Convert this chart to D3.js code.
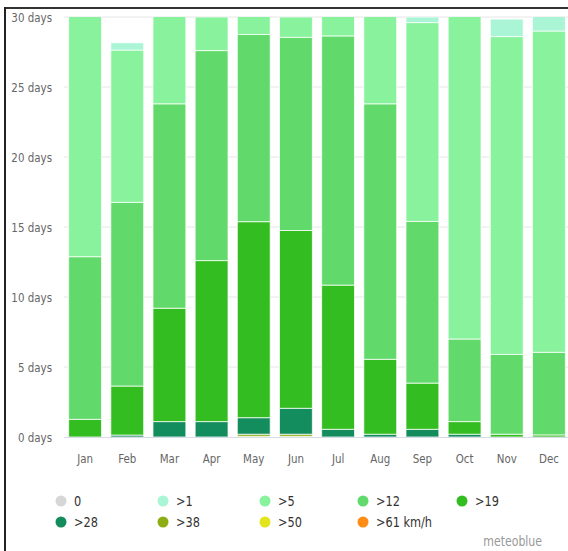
<!DOCTYPE html>
<html><head><meta charset="utf-8">
<script src="https://cdn.jsdelivr.net/npm/d3@7"></script>
<style>body{margin:0;background:#fff}svg{display:block}</style>
</head><body>
<svg id="c" width="568" height="551"></svg>
<script>
const months = ["Jan","Feb","Mar","Apr","May","Jun","Jul","Aug","Sep","Oct","Nov","Dec"];
const seriesNames = ["0", ">1", ">5", ">12", ">19", ">28", ">38", ">50", ">61 km/h"];
const s0   = [0,0,0,0,0,0,0,0,0,0,0,0];
const s1   = [0,0.52,0,0,0,0,0,0,0.4,0,1.25,2.0];
const s5   = [18.12,10.88,7.2,2.4,2.25,1.45,2.35,7.2,14.2,24.0,22.7,22.95];
const s12  = [11.62,13.12,14.6,15.0,13.37,13.8,17.8,18.25,11.55,5.9,5.7,5.9];
const s19  = [1.26,3.5,8.1,11.5,14.0,12.7,10.3,5.35,3.3,0.9,0.2,0.15];
const s28  = [0,0.14,1.1,1.1,1.18,1.85,0.55,0.2,0.55,0.2,0,0];
const s38  = [0,0,0,0,0.15,0.15,0,0,0,0,0,0];
const s50  = [0,0,0,0,0.05,0.05,0,0,0,0,0,0];
const s61  = [0,0,0,0,0,0,0,0,0,0,0,0];
const yTicks = [0,5,10,15,20,25,30];
const colors = ["#d6d6d6","#aaf5d5","#88f39c","#62da6b","#34bd20","#138d5d","#8cae14","#e4e41c","#ff8c14"];

const seriesVals = [s0,s1,s5,s12,s19,s28,s38,s50,s61];
const table = months.map((m,i)=>{const o={month:m}; seriesNames.forEach((n,k)=>o[n]=seriesVals[k][i]); return o;});
const order = seriesNames.slice().reverse();
const stack = d3.stack().keys(order)(table);

const svg = d3.select("#c");
const font = "'DejaVu Sans Condensed','DejaVu Sans',sans-serif";
const x = d3.scaleBand().domain(months).range([64,570]).paddingInner(0.22).paddingOuter(0.11);
const y = d3.scaleLinear().domain([0,30]).range([437,17]);

svg.append("g").selectAll("line").data(yTicks.filter(t=>t>0)).join("line")
  .attr("x1",64).attr("x2",568).attr("y1",d=>y(d)).attr("y2",d=>y(d))
  .attr("stroke","#e6e6e6").attr("stroke-width",1);

svg.append("defs").append("clipPath").attr("id","clip").append("rect")
  .attr("x",0).attr("y",y(30)).attr("width",568).attr("height",y(0)-y(30)+2);

const colorOf = d3.scaleOrdinal().domain(seriesNames).range(colors);
const g = svg.append("g").attr("clip-path","url(#clip)");
g.selectAll("g").data(stack).join("g").attr("fill",d=>colorOf(d.key))
  .selectAll("rect").data(d=>d).join("rect")
  .attr("x",d=>x(d.data.month)).attr("width",x.bandwidth())
  .attr("y",d=>y(d[1])).attr("height",d=>Math.max(0,y(d[0])-y(d[1])))
  .attr("stroke","rgba(255,255,255,0.75)").attr("stroke-width",1);

svg.append("line").attr("x1",64).attr("x2",568).attr("y1",y(0)+0.5).attr("y2",y(0)+0.5)
  .attr("stroke","#d8dce6").attr("stroke-width",1);

const yAxis = d3.axisLeft(y).tickValues(yTicks).tickSize(0).tickPadding(0).tickFormat(d=>d+" days");
const ya = svg.append("g").attr("transform","translate(52,0)").call(yAxis);
ya.select(".domain").remove();
ya.selectAll("text").attr("font-family",font).attr("font-size","13px").attr("fill","#666")
  .attr("transform","scale(0.88,1)");

const xAxis = d3.axisBottom(x).tickSize(0).tickPadding(0);
const xa = svg.append("g").attr("transform","translate(0,454)").call(xAxis);
xa.select(".domain").remove();
xa.selectAll("text").attr("font-family",font).attr("font-size","13px").attr("fill","#666")
  .attr("transform","scale(0.88,1)");

const colX = [61,163,265,363,462];
const rowY = [501,522];
const lg = svg.append("g");
seriesNames.forEach((n,i)=>{
  const cx = colX[i%5], cy = rowY[Math.floor(i/5)];
  lg.append("circle").attr("cx",cx).attr("cy",cy).attr("r",5.5).attr("fill",colors[i]);
  lg.append("text").attr("transform",`translate(${cx+13},${cy}) scale(0.9,1)`).attr("dy","0.36em")
    .attr("font-family",font).attr("font-size","14px").attr("fill","#333").text(n);
});
svg.append("text").attr("transform","translate(542,546) scale(0.9,1)").attr("text-anchor","end")
  .attr("font-family",font).attr("font-size","13.5px").attr("fill","#999").text("meteoblue");

svg.append("line").attr("x1",5).attr("x2",568).attr("y1",8).attr("y2",8).attr("stroke","#333").attr("stroke-width",2);
svg.append("line").attr("x1",5).attr("x2",5).attr("y1",7).attr("y2",551).attr("stroke","#222").attr("stroke-width",2);
</script>
</body></html>
